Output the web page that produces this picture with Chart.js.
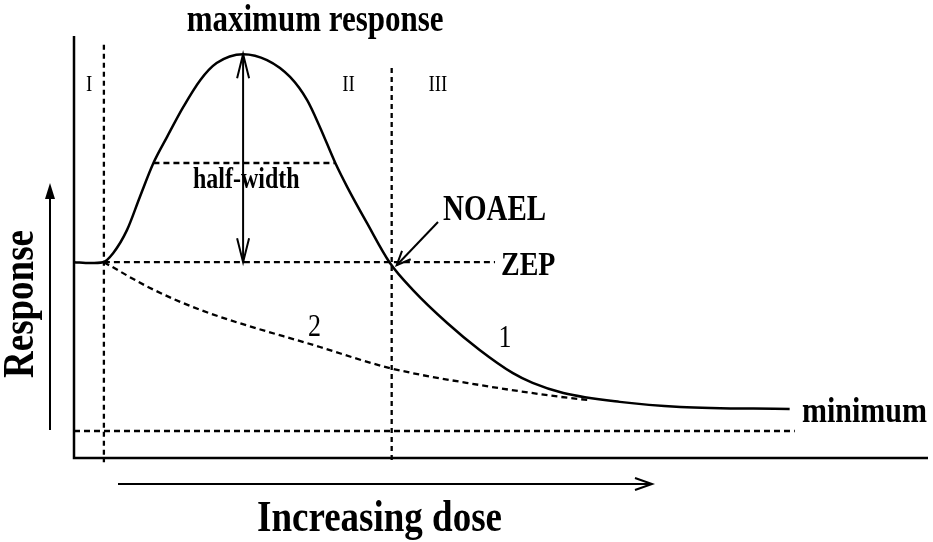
<!DOCTYPE html>
<html>
<head>
<meta charset="utf-8">
<script src="https://cdn.jsdelivr.net/npm/chart.js@4/dist/chart.umd.min.js"></script>
<style>
  html, body { margin: 0; padding: 0; background: #fff; }
  #chart { display: block; }
</style>
</head>
<body>
<canvas id="chart" width="933" height="542"></canvas>
<script>
// Curve 1 - hormetic response (dose in 0..100, response in 0..100)
const doseCurve1 = [0, 1.9, 3.4, 4.6, 6.2, 7.7, 9.3, 10.9, 12.8, 14.8, 16.7, 19.8, 22.6, 25.3, 27.3, 28.8, 30.6, 32.0, 34.3, 37.0, 39.7, 43.7, 47.5, 51.4, 53.7, 57.3, 63.9, 71.0, 83.8];
const respCurve1 = [46.4, 46.2, 46.4, 48.6, 54.0, 61.8, 69.9, 76.1, 83.2, 89.6, 93.6, 95.7, 94.3, 90.3, 84.8, 78.4, 69.9, 64.2, 55.7, 46.2, 39.8, 32.0, 25.6, 20.1, 17.8, 15.4, 13.3, 12.1, 11.6];

// Curve 2 - monotonic (dashed)
const doseCurve2 = [3.5, 8.9, 14.8, 28.8, 37.0, 47.5, 56.9, 60.4];
const respCurve2 = [46.4, 40.3, 35.1, 26.3, 21.3, 17.3, 14.5, 13.7];

// reference levels
const zepLevel = 46.4;
const zepRange = [3.5, 49.3];
const minLevel = 6.4;
const minRange = [0, 84.4];
const halfWidthLevel = 69.9;
const halfWidthRange = [9.3, 30.6];
const peakDose = 19.8;
const peakResp = 95.7;
const boundaryI = 3.5;      // region I / II
const boundaryI_top = 97.9;
const noaelDose = 37.2;     // region II / III
const noaelTop = 92.4;

// region and curve labels [text, dose, response]
const regionLabels = [['I', 1.4, 87], ['II', 31.4, 87], ['III', 41.5, 87]];
const curveLabels = [['1', 49.7, 26.3], ['2', 27.4, 28.9]];

const toPts = (xs, ys) => xs.map((x, i) => ({ x: x, y: ys[i] }));
const seg = (x0, y0, x1, y1) => [{ x: x0, y: y0 }, { x: x1, y: y1 }];

const dashed = (data, extra) => Object.assign({
  data: data,
  borderColor: '#000',
  borderWidth: 2.3,
  borderDash: [6, 4],
  pointRadius: 0,
  tension: 0,
  fill: false
}, extra || {});

const SERIF = '"Liberation Serif", "Times New Roman", serif';

function drawText(ctx, text, x, y, font, align, rot) {
  ctx.save();
  ctx.translate(x, y);
  if (rot) ctx.rotate(rot);
  ctx.scale(1, 1.2);
  ctx.font = font;
  ctx.textAlign = align || 'left';
  ctx.textBaseline = 'alphabetic';
  ctx.fillStyle = '#000';
  ctx.fillText(text, 0, 0);
  ctx.restore();
}

function openHead(ctx, tx, ty, fx, fy, len, half) {
  const a = Math.atan2(ty - fy, tx - fx);
  ctx.beginPath();
  ctx.moveTo(tx - len * Math.cos(a) + half * Math.sin(a), ty - len * Math.sin(a) - half * Math.cos(a));
  ctx.lineTo(tx, ty);
  ctx.lineTo(tx - len * Math.cos(a) - half * Math.sin(a), ty - len * Math.sin(a) + half * Math.cos(a));
  ctx.stroke();
}

const decorations = {
  id: 'decorations',
  afterDatasetsDraw(chart) {
    const ctx = chart.ctx;
    const xs = chart.scales.x, ys = chart.scales.y;
    const area = chart.chartArea;
    const px = v => xs.getPixelForValue(v);
    const py = v => ys.getPixelForValue(v);

    ctx.save();
    ctx.strokeStyle = '#000';
    ctx.fillStyle = '#000';
    ctx.lineCap = 'butt';

    // axes
    ctx.lineWidth = 2.5;
    ctx.beginPath();
    ctx.moveTo(area.left, area.top);
    ctx.lineTo(area.left, area.bottom);
    ctx.lineTo(area.right, area.bottom);
    ctx.stroke();

    // double arrow for the maximum response
    ctx.lineWidth = 2;
    const ax = px(peakDose), aTop = py(peakResp), aBot = py(zepLevel);
    ctx.beginPath();
    ctx.moveTo(ax, aTop);
    ctx.lineTo(ax, aBot);
    ctx.stroke();
    openHead(ctx, ax, aTop, ax, aBot, 24, 6);
    openHead(ctx, ax, aBot, ax, aTop, 24, 6);

    // NOAEL pointer
    const nx = px(noaelDose) + 5, ny = py(zepLevel) + 3;
    ctx.beginPath();
    ctx.moveTo(438, 222);
    ctx.lineTo(nx, ny);
    ctx.stroke();
    openHead(ctx, nx, ny, 438, 222, 14, 6);

    // Response arrow
    ctx.beginPath();
    ctx.moveTo(50, 430);
    ctx.lineTo(50, 196);
    ctx.stroke();
    ctx.beginPath();
    ctx.moveTo(50, 183);
    ctx.lineTo(45, 199);
    ctx.lineTo(55, 199);
    ctx.closePath();
    ctx.fill();

    // Increasing dose arrow
    ctx.beginPath();
    ctx.moveTo(118, 484);
    ctx.lineTo(652, 484);
    ctx.stroke();
    openHead(ctx, 652, 484, 118, 484, 17, 6);

    // texts
    drawText(ctx, 'maximum response', px(peakDose) + 72, 31, 'bold 31px ' + SERIF, 'center');
    drawText(ctx, 'half-width', 193, 188, 'bold 24px ' + SERIF);
    drawText(ctx, 'NOAEL', 443, 220, 'bold 29px ' + SERIF);
    drawText(ctx, 'ZEP', 501, 275, 'bold 28px ' + SERIF);
    drawText(ctx, 'minimum', 802, 422, 'bold 30px ' + SERIF);
    regionLabels.forEach(l => drawText(ctx, l[0], px(l[1]), py(l[2]), '19px ' + SERIF));
    curveLabels.forEach(l => drawText(ctx, l[0], px(l[1]), py(l[2]), '26px ' + SERIF));
    drawText(ctx, 'Increasing dose', 257, 531, 'bold 37px ' + SERIF);
    drawText(ctx, 'Response', 33, 378, 'bold 37px ' + SERIF, 'left', -Math.PI / 2);

    ctx.restore();
  }
};

new Chart(document.getElementById('chart'), {
  type: 'line',
  data: {
    datasets: [
      {
        data: toPts(doseCurve1, respCurve1),
        borderColor: '#000',
        borderWidth: 2.5,
        pointRadius: 0,
        cubicInterpolationMode: 'monotone',
        fill: false
      },
      dashed(toPts(doseCurve2, respCurve2), { cubicInterpolationMode: 'monotone' }),
      dashed(seg(zepRange[0], zepLevel, zepRange[1], zepLevel)),
      dashed(seg(minRange[0], minLevel, minRange[1], minLevel)),
      dashed(seg(halfWidthRange[0], halfWidthLevel, halfWidthRange[1], halfWidthLevel)),
      dashed(seg(boundaryI, boundaryI_top, boundaryI, -1), { clip: false, borderDash: [5, 4] }),
      dashed(seg(noaelDose, noaelTop, noaelDose, -1), { clip: false, borderDash: [5, 4] })
    ]
  },
  options: {
    responsive: false,
    animation: false,
    devicePixelRatio: 1,
    layout: { padding: { left: 74, right: 5, top: 36, bottom: 84 } },
    plugins: { legend: { display: false }, tooltip: { enabled: false } },
    scales: {
      x: { type: 'linear', min: 0, max: 100, display: false },
      y: { type: 'linear', min: 0, max: 100, display: false }
    }
  },
  plugins: [decorations]
});
</script>
</body>
</html>
